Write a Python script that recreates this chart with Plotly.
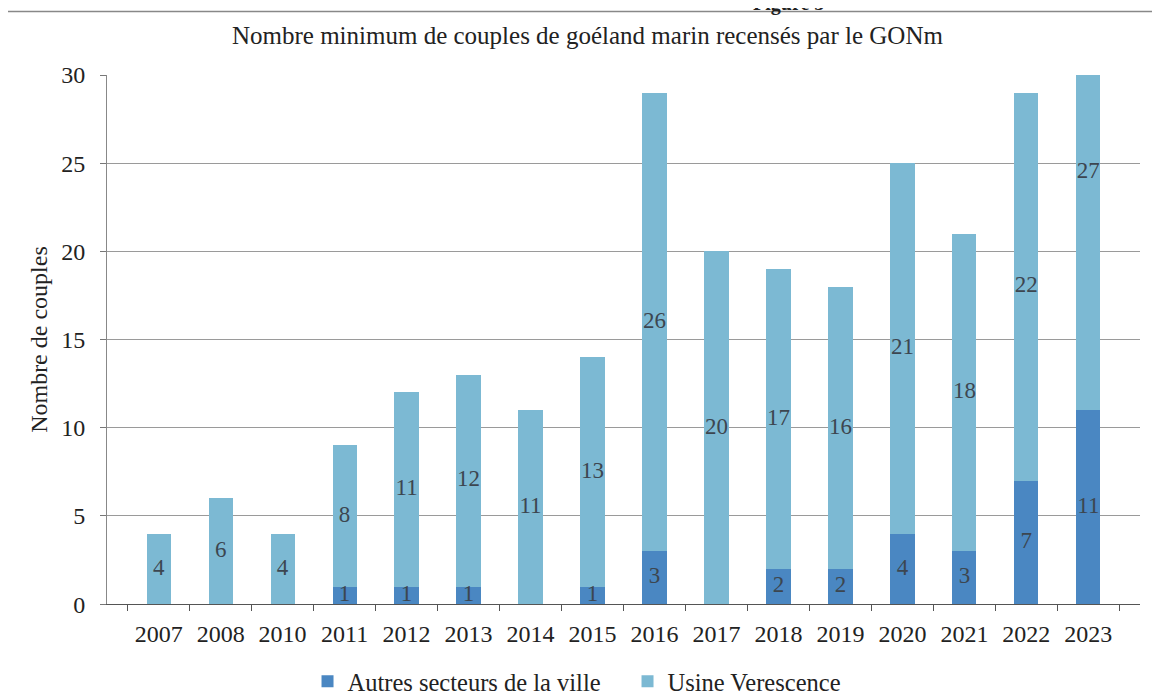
import plotly.graph_objects as go

years = ["2007", "2008", "2010", "2011", "2012", "2013", "2014", "2015",
         "2016", "2017", "2018", "2019", "2020", "2021", "2022", "2023"]
autres = [0, 0, 0, 1, 1, 1, 0, 1, 3, 0, 2, 2, 4, 3, 7, 11]
usine = [4, 6, 4, 8, 11, 12, 11, 13, 26, 20, 17, 16, 21, 18, 22, 27]

title_text = "Nombre minimum de couples de goéland marin recensés par le GONm"
y_title = "Nombre de couples"
name_autres = "Autres secteurs de la ville"
name_usine = "Usine Verescence"

dark = "#4a87c2"
light = "#7cb9d3"
font = "Liberation Serif, Times New Roman, serif"
label_color = "#3c4650"
txt = "#222222"

fig = go.Figure()
fig.add_trace(go.Bar(x=years, y=autres, name=name_autres, marker_color=dark,
                     marker_line_width=0))
fig.add_trace(go.Bar(x=years, y=usine, name=name_usine, marker_color=light,
                     marker_line_width=0))

# Data labels at the middle of each segment
lx, ly, lt = [], [], []
for yr, a, u in zip(years, autres, usine):
    if a > 0:
        lx.append(yr); ly.append(a / 2); lt.append(str(a))
    if u > 0:
        lx.append(yr); ly.append(a + u / 2); lt.append(str(u))
fig.add_trace(go.Scatter(x=lx, y=ly, text=lt, mode="text", showlegend=False,
                         textfont=dict(family=font, size=23, color=label_color),
                         hoverinfo="skip", cliponaxis=False))

fig.update_layout(
    barmode="stack",
    bargap=0.61,
    width=1152, height=690,
    margin=dict(l=99, r=20, t=67, b=83),
    paper_bgcolor="white", plot_bgcolor="white",
    font=dict(family=font, size=24, color=txt),
    title=dict(text=title_text, x=0.503, xanchor="center", y=0.96, yanchor="middle",
               font=dict(family=font, size=25, color=txt)),
    legend=dict(orientation="h", xref="container", yref="container",
                x=0.26, xanchor="left", y=0.024, yanchor="middle",
                font=dict(family=font, size=24.5, color=txt),
                traceorder="normal", itemwidth=30, entrywidth=275),
    xaxis=dict(type="category", tickson="boundaries", ticks="outside", ticklen=6,
               tickcolor="#555555", showline=True, linecolor="#555555", linewidth=1,
               showgrid=False, ticklabelstandoff=8,
               tickfont=dict(family=font, size=24, color=txt)),
    yaxis=dict(range=[0, 30], dtick=5, ticks="outside", ticklen=6, tickcolor="#777777",
               showline=True, linecolor="#888888", linewidth=1,
               gridcolor="#9a9a9a", gridwidth=1, zeroline=False, ticklabelstandoff=10,
               title=dict(text=y_title, standoff=6,
                          font=dict(family=font, size=24, color=txt)),
               tickfont=dict(family=font, size=24, color=txt)),
    shapes=[
        dict(type="line", xref="paper", yref="paper", x0=-0.097, x1=1.02, y0=1.12, y1=1.12,
             line=dict(color="#888888", width=1.5)),
        dict(type="line", xref="paper", yref="paper", x0=-0.097, x1=-0.097, y0=1.12, y1=-0.2,
             line=dict(color="#777777", width=1.5)),
    ],
    annotations=[
        dict(text="<b>Figure 3</b>", xref="paper", yref="paper", x=0.66, y=1.135,
             xanchor="center", yanchor="middle", showarrow=False,
             font=dict(family=font, size=20, color=txt)),
    ],
)

fig.write_html("out.html")
